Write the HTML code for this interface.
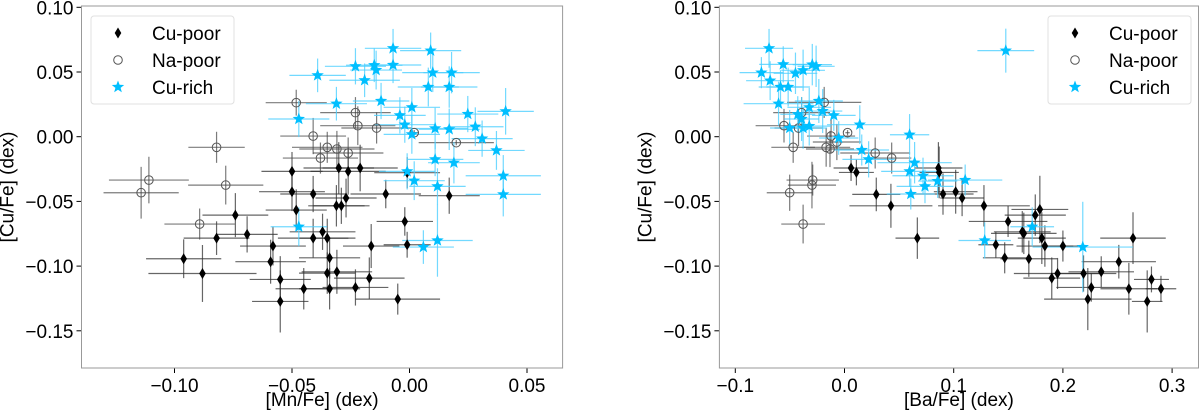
<!DOCTYPE html>
<html><head><meta charset="utf-8">
<style>
html,body{margin:0;padding:0;background:#fff;}
svg{display:block;font-family:"Liberation Sans","DejaVu Sans",sans-serif;}
</style></head>
<body>
<svg id="chart" width="1200" height="410" xmlns="http://www.w3.org/2000/svg"></svg>
<script>
// ---------- DATA: left panel [Mn/Fe] vs [Cu/Fe] ----------
const L_rich_x=[-0.0070,0.0090,-0.0391,-0.0230,-0.0150,-0.0142,-0.0070,0.0099,0.0179,-0.0191,0.0080,0.0169,-0.0311,-0.0121,0.0010,-0.0041,0.0248,0.0409,-0.0471,-0.0020,0.0109,0.0169,0.0280,0.0010,0.0309,0.0370,0.0109,0.0189,-0.0010,0.0020,0.0119,0.0399,0.0399,-0.0471,0.0119,0.0059];
const L_rich_y=[0.0683,0.0665,0.0474,0.0544,0.0552,0.0515,0.0554,0.0495,0.0495,0.0436,0.0384,0.0384,0.0255,0.0276,0.0227,0.0165,0.0175,0.0196,0.0137,0.0093,0.0064,0.0057,0.0077,0.0018,-0.0015,-0.0106,-0.0175,-0.0201,-0.0268,-0.0340,-0.0384,-0.0302,-0.0446,-0.0696,-0.0802,-0.0853];
const L_rich_xe=[0.012,0.013,0.012,0.013,0.012,0.011,0.012,0.013,0.012,0.015,0.013,0.012,0.013,0.012,0.012,0.011,0.013,0.012,0.013,0.013,0.014,0.013,0.012,0.012,0.013,0.012,0.012,0.011,0.012,0.013,0.012,0.016,0.016,0.012,0.015,0.013];
const L_rich_ye=[0.015,0.014,0.013,0.014,0.013,0.015,0.014,0.015,0.016,0.013,0.015,0.016,0.013,0.014,0.015,0.014,0.014,0.018,0.014,0.014,0.016,0.016,0.015,0.015,0.014,0.015,0.013,0.016,0.014,0.015,0.014,0.016,0.017,0.015,0.028,0.013];
const L_na_x=[-0.0482,-0.0230,-0.0220,-0.0140,-0.0410,-0.0350,-0.0309,-0.0261,-0.0379,-0.0821,-0.0782,-0.1109,-0.1142,-0.0893,0.0199,0.0020];
const L_na_y=[0.0263,0.0186,0.0085,0.0067,0.0005,-0.0082,-0.0095,-0.0126,-0.0165,-0.0082,-0.0374,-0.0335,-0.0433,-0.0675,-0.0046,0.0031];
const L_na_xe=[0.013,0.015,0.016,0.015,0.014,0.015,0.016,0.015,0.016,0.012,0.016,0.017,0.016,0.015,0.016,0.002];
const L_na_ye=[0.010,0.012,0.015,0.012,0.014,0.012,0.014,0.012,0.012,0.012,0.015,0.018,0.020,0.012,0.002,0.002];
const L_poor_x=[-0.0500,-0.0301,-0.0261,-0.0210,-0.0010,-0.0500,-0.0410,-0.0101,0.0169,-0.0482,-0.0311,-0.0290,-0.0270,-0.0741,-0.0691,-0.0821,-0.0581,-0.0410,-0.0370,-0.0350,-0.0340,-0.0163,-0.0020,-0.0010,-0.0961,-0.0881,-0.0591,-0.0550,-0.0450,-0.0350,-0.0309,-0.0340,-0.0230,-0.0171,-0.0550,-0.0050];
const L_poor_y=[-0.0268,-0.0242,-0.0268,-0.0242,-0.0278,-0.0425,-0.0443,-0.0443,-0.0456,-0.0567,-0.0534,-0.0534,-0.0474,-0.0606,-0.0755,-0.0784,-0.0845,-0.0784,-0.0735,-0.0784,-0.0936,-0.0845,-0.0655,-0.0835,-0.0943,-0.1057,-0.0966,-0.1103,-0.1175,-0.1054,-0.1044,-0.1175,-0.1165,-0.1093,-0.1273,-0.1255];
const L_poor_xe=[0.013,0.015,0.016,0.016,0.014,0.014,0.014,0.015,0.013,0.013,0.012,0.012,0.013,0.014,0.013,0.014,0.014,0.015,0.014,0.012,0.013,0.012,0.012,0.010,0.016,0.023,0.015,0.013,0.012,0.012,0.015,0.013,0.014,0.015,0.012,0.018];
const L_poor_ye=[0.015,0.020,0.018,0.018,0.012,0.015,0.014,0.011,0.014,0.016,0.016,0.014,0.015,0.017,0.014,0.013,0.015,0.015,0.014,0.015,0.016,0.017,0.011,0.010,0.015,0.022,0.017,0.018,0.016,0.016,0.017,0.016,0.014,0.016,0.024,0.012];

// ---------- DATA: right panel [Ba/Fe] vs [Cu/Fe] ----------
const R_rich_x=[-0.0691,0.1477,-0.0761,-0.0561,-0.0681,-0.0449,-0.0379,-0.0295,-0.0260,-0.0586,-0.0516,-0.0604,-0.0235,-0.0200,-0.0323,-0.0098,-0.0428,-0.0393,-0.0502,-0.0379,-0.0323,-0.0053,0.0140,0.0596,0.0158,0.0221,0.0642,0.0596,0.0719,0.0737,0.0607,0.0853,0.1105,0.1719,0.1284,0.2182];
const R_rich_y=[0.0683,0.0665,0.0495,0.0559,0.0433,0.0490,0.0513,0.0557,0.0544,0.0384,0.0384,0.0255,0.0276,0.0198,0.0227,0.0165,0.0173,0.0137,0.0067,0.0067,0.0082,-0.0010,0.0093,0.0015,-0.0103,-0.0175,-0.0201,-0.0268,-0.0302,-0.0384,-0.0443,-0.0343,-0.0335,-0.0696,-0.0802,-0.0853];
const R_rich_xe=[0.022,0.026,0.020,0.022,0.022,0.020,0.020,0.018,0.017,0.020,0.020,0.032,0.022,0.018,0.020,0.020,0.016,0.016,0.018,0.022,0.020,0.018,0.030,0.018,0.025,0.024,0.034,0.026,0.028,0.026,0.022,0.018,0.034,0.020,0.024,0.046];
const R_rich_ye=[0.015,0.017,0.012,0.014,0.015,0.016,0.016,0.016,0.016,0.013,0.015,0.017,0.017,0.017,0.015,0.012,0.014,0.017,0.014,0.016,0.015,0.013,0.015,0.016,0.012,0.014,0.016,0.012,0.014,0.013,0.012,0.013,0.012,0.015,0.014,0.035];
const R_na_x=[-0.0186,-0.0393,-0.0554,-0.0421,-0.0123,-0.0070,-0.0168,-0.0133,0.0281,0.0432,-0.0470,-0.0291,-0.0298,-0.0502,-0.0379,0.0028];
const R_na_y=[0.0265,0.0186,0.0085,0.0067,0.0005,-0.0041,-0.0082,-0.0095,-0.0126,-0.0165,-0.0082,-0.0335,-0.0374,-0.0433,-0.0675,0.0031];
const R_na_xe=[0.034,0.026,0.026,0.022,0.022,0.022,0.022,0.022,0.032,0.018,0.020,0.024,0.022,0.021,0.020,0.002];
const R_na_ye=[0.012,0.012,0.013,0.014,0.013,0.014,0.015,0.014,0.012,0.012,0.012,0.012,0.018,0.014,0.015,0.002];
const R_poor_x=[0.0060,0.0109,0.0291,0.0425,0.0667,0.0860,0.0867,0.0902,0.1018,0.1077,0.1277,0.1498,0.1628,0.1642,0.1747,0.1789,0.1807,0.1835,0.1386,0.1467,0.1688,0.2000,0.1951,0.1898,0.2189,0.2260,0.2228,0.2351,0.2512,0.2642,0.2604,0.2811,0.2898,0.2772];
const R_poor_y=[-0.0242,-0.0276,-0.0446,-0.0534,-0.0784,-0.0242,-0.0276,-0.0443,-0.0425,-0.0474,-0.0534,-0.0655,-0.0735,-0.0747,-0.0606,-0.0562,-0.0784,-0.0845,-0.0835,-0.0936,-0.0943,-0.0845,-0.1057,-0.1093,-0.1057,-0.1165,-0.1255,-0.1044,-0.0966,-0.0784,-0.1175,-0.1103,-0.1175,-0.1273];
const R_poor_xe=[0.016,0.016,0.022,0.038,0.020,0.022,0.018,0.028,0.020,0.020,0.042,0.036,0.026,0.030,0.028,0.026,0.022,0.026,0.016,0.020,0.026,0.020,0.040,0.026,0.030,0.032,0.040,0.030,0.034,0.030,0.026,0.016,0.014,0.014];
const R_poor_ye=[0.010,0.010,0.013,0.017,0.016,0.020,0.020,0.016,0.017,0.014,0.016,0.012,0.016,0.016,0.016,0.026,0.020,0.016,0.010,0.012,0.014,0.012,0.012,0.016,0.014,0.011,0.024,0.012,0.013,0.020,0.020,0.010,0.010,0.024];

const yTicks=[0.10,0.05,0.00,-0.05,-0.10,-0.15];
const yTickLabels=["0.10","0.05","0.00","\u22120.05","\u22120.10","\u22120.15"];
const lxTicks=[-0.10,-0.05,0.00,0.05];
const lxTickLabels=["\u22120.10","\u22120.05","0.00","0.05"];
const rxTicks=[-0.1,0.0,0.1,0.2,0.3];
const rxTickLabels=["\u22120.1","0.0","0.1","0.2","0.3"];

const NS="http://www.w3.org/2000/svg";
const svg=document.getElementById('chart');
function mk(tag,attrs,parent){const e=document.createElementNS(NS,tag);for(const k in attrs)e.setAttribute(k,attrs[k]);(parent||svg).appendChild(e);return e;}

const yScale=v=>136.7-v*1294;
const panels=[
 {id:'left',x0:81.5,x1:562.6,xs:v=>409.5+v*2350,ticks:lxTicks,labels:lxTickLabels,xlabel:'[Mn/Fe] (dex)',legX:91,
  rich:[L_rich_x,L_rich_y,L_rich_xe,L_rich_ye],na:[L_na_x,L_na_y,L_na_xe,L_na_ye],poor:[L_poor_x,L_poor_y,L_poor_xe,L_poor_ye]},
 {id:'right',x0:719.4,x1:1198.5,xs:v=>844.5+v*1092,ticks:rxTicks,labels:rxTickLabels,xlabel:'[Ba/Fe] (dex)',legX:1048,
  rich:[R_rich_x,R_rich_y,R_rich_xe,R_rich_ye],na:[R_na_x,R_na_y,R_na_xe,R_na_ye],poor:[R_poor_x,R_poor_y,R_poor_xe,R_poor_ye]}
];
const CY='#00bfff';
function diamond(cx,cy,g){const p=mk('polygon',{points:`${cx},${cy-5.5} ${cx+3.3},${cy} ${cx},${cy+5.5} ${cx-3.3},${cy}`,fill:'#000'},g);return p;}
function star(cx,cy,r,g){let pts=[];for(let i=0;i<10;i++){const a=-Math.PI/2+i*Math.PI/5;const rr=i%2?r*0.42:r;pts.push((cx+rr*Math.cos(a)).toFixed(2)+','+(cy+rr*Math.sin(a)).toFixed(2));}return mk('polygon',{points:pts.join(' '),fill:CY},g);}

panels.forEach(P=>{
  const g=mk('g',{});
  
  
  const y0=6,y1=368;
  // ticks y
  yTicks.forEach((t,i)=>{
    const y=yScale(t);
    const tk=mk('line',{x1:P.x0-5,x2:P.x0,y1:y,y2:y,stroke:'#000','stroke-width':1},g);
    
    
    const tx=mk('text',{x:P.x0-8,y:y+7,'text-anchor':'end','font-size':19,fill:'#000'},g);
    tx.textContent=yTickLabels[i];
    
    
  });
  P.ticks.forEach((t,i)=>{
    const x=P.xs(t);
    const tk=mk('line',{x1:x,x2:x,y1:y1,y2:y1+5,stroke:'#000','stroke-width':1},g);
    
    
    const tx=mk('text',{x:x,y:y1+24,'text-anchor':'middle','font-size':19,fill:'#000'},g);
    tx.textContent=P.labels[i];
    
    
  });
  const xl=mk('text',{x:(P.x0+P.x1)/2,y:406,'text-anchor':'middle','font-size':19,fill:'#000'},g);
  xl.textContent=P.xlabel;
  
  
  const yx=P.x0-68, yy=(y0+y1)/2;
  const yl=mk('text',{x:yx,y:yy,'text-anchor':'middle','font-size':19,fill:'#000',transform:`rotate(-90 ${yx} ${yy})`},g);
  yl.textContent='[Cu/Fe] (dex)';
  
  

  function errs(S,color,op){
    const [xs,ys,xe,ye]=S;
    xs.forEach((v,i)=>{
      const cx=P.xs(v),cy=yScale(ys[i]);
      const h=mk('line',{x1:P.xs(v-xe[i]),x2:P.xs(v+xe[i]),y1:cy,y2:cy,stroke:color,'stroke-width':1.2,opacity:op},g);
      
      
      const vl=mk('line',{x1:cx,x2:cx,y1:yScale(ys[i]+ye[i]),y2:yScale(ys[i]-ye[i]),stroke:color,'stroke-width':1.2,opacity:op},g);
      
      
    });
  }
  errs(P.poor,'#333',0.75);
  errs(P.na,'#444',0.7);
  errs(P.rich,'#4fd0ff',0.8);
  P.poor[0].forEach((v,i)=>{const d=diamond(P.xs(v),yScale(P.poor[1][i]),g);
    
    });
  P.na[0].forEach((v,i)=>{const c=mk('circle',{cx:P.xs(v),cy:yScale(P.na[1][i]),r:4.3,fill:'none',stroke:'#555','stroke-width':1},g);
    
    });
  P.rich[0].forEach((v,i)=>{const s=star(P.xs(v),yScale(P.rich[1][i]),6.5,g);
    
    });

  const fr=mk('rect',{x:P.x0,y:y0,width:P.x1-P.x0,height:y1-y0,fill:'none',stroke:'#999','stroke-width':1},g);
  
  

  // legend
  const lg=mk('g',{},g);
  
  
  const lx=P.legX;
  mk('rect',{x:lx,y:16,width:143,height:88,rx:3,fill:'#fff',stroke:'#ddd','stroke-width':1,opacity:0.9},lg);
  const items=[['Cu-poor',33],['Na-poor',60],['Cu-rich',87]];
  items.forEach((it,k)=>{
    const cx=lx+27,cy=it[1];
    let m;
    if(k===0)m=diamond(cx,cy,lg);
    else if(k===1)m=mk('circle',{cx:cx,cy:cy,r:4.3,fill:'none',stroke:'#555','stroke-width':1},lg);
    else m=star(cx,cy,6.5,lg);
    const t=mk('text',{x:lx+61,y:cy+7,'font-size':19,fill:'#000'},lg);
    t.textContent=it[0];
    
    
  });
});
</script>
</body></html>
